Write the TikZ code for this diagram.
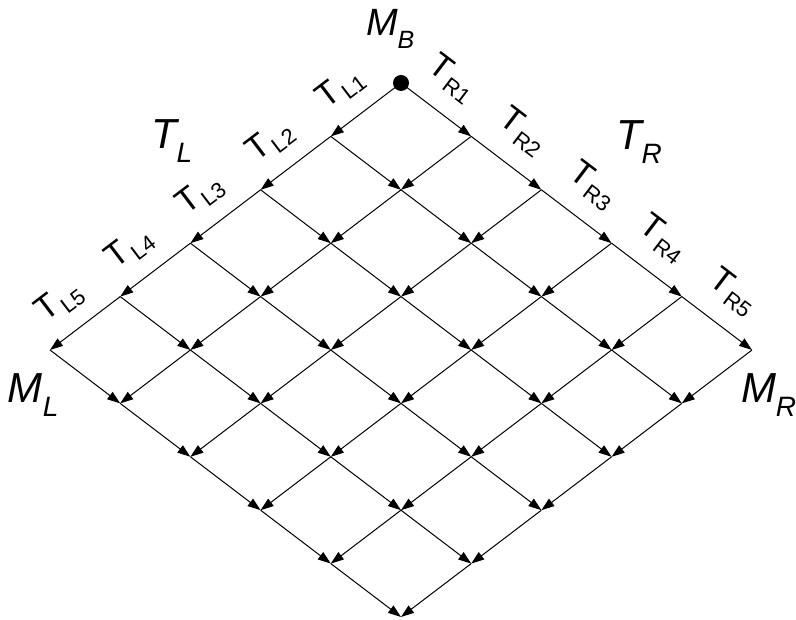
\documentclass[tikz,border=0pt]{standalone}
\usepackage{fontspec}
\setmainfont{Liberation Sans}
\usetikzlibrary{arrows.meta}
\newcommand{\bigLbl}[2]{{\fontsize{42}{42}\selectfont\itshape #1\raisebox{-14pt}{\fontsize{28}{28}\selectfont #2}}}
\newcommand{\midLbl}[2]{{\fontsize{38}{38}\selectfont\itshape #1\raisebox{-13pt}{\fontsize{25}{25}\selectfont #2}}}
\newcommand{\smallLbl}[1]{{\fontsize{34}{34}\selectfont T\kern2pt\raisebox{-7pt}{\fontsize{22}{22}\selectfont #1}}}
\begin{document}
\begin{tikzpicture}[x=1pt,y=1pt,
  edge/.style={line width=1pt, -{Triangle[length=13pt,width=9pt]}},
  lab/.style={inner sep=0pt, outer sep=0pt},
  dotnode/.style={circle, fill=black, minimum size=16pt, inner sep=0pt}]
\useasboundingbox (0,0) rectangle (796,620);
\foreach \i in {0,...,5} \foreach \j in {0,...,5} {
  \coordinate (p-\i-\j) at ({401-70.2*\i+70.2*\j},{537-53.4*(\i+\j)});
}
\foreach \i in {0,...,4} \foreach \j in {0,...,5} {
  \pgfmathtruncatemacro\ni{\i+1}
  \draw[edge] (p-\i-\j) -- (p-\ni-\j);
}
\foreach \i in {0,...,5} \foreach \j in {0,...,4} {
  \pgfmathtruncatemacro\nj{\j+1}
  \draw[edge] (p-\i-\j) -- (p-\i-\nj);
}
\node[dotnode] (top) at (p-0-0) {};
% big labels
\node[lab, anchor=base west] (mb) at (366,584) {\midLbl{M}{B}};
\node[lab, anchor=base west] (tl) at (151,471) {\bigLbl{T}{L}};
\node[lab, anchor=base west] (tr) at (616,470) {\bigLbl{T}{R}};
\node[lab, anchor=base west] (ml) at (8,217) {\bigLbl{M}{L}};
\node[lab, anchor=base west] (mr) at (741,217) {\bigLbl{M}{R}};
% edge labels
\foreach \k in {1,...,5} {
  \node[lab, rotate=37.3] (tl\k) at ([shift={(9.5,48)}]p-\k-0) {\smallLbl{L\k}};
  \node[lab, rotate=-37.3] (tr\k) at ([shift={(-19,58)}]p-0-\k) {\smallLbl{R\k}};
}
\end{tikzpicture}
\end{document}
